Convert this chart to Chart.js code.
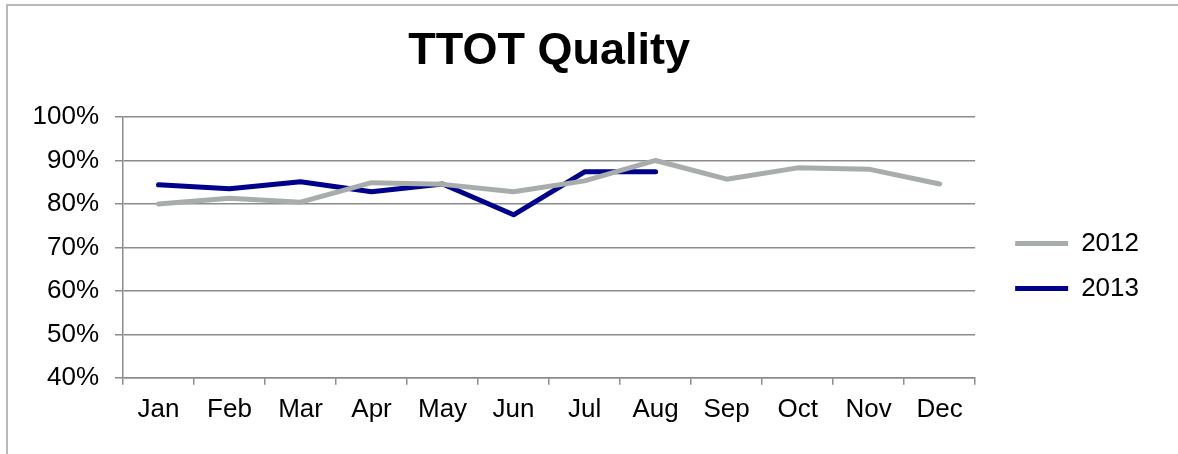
<!DOCTYPE html>
<html>
<head>
<meta charset="utf-8">
<script src="https://cdn.jsdelivr.net/npm/chart.js@4"></script>
<style>
  html, body { margin: 0; padding: 0; background: #fff; }
  #frame { position: absolute; left: 6px; top: 4px; width: 1200px; height: 480px;
           border-left: 2px solid #b6baba; border-top: 2px solid #b6baba; }
  #wrap { position: absolute; left: 0; top: 0; width: 1178px; height: 454px; }
</style>
</head>
<body>
<div id="frame"></div>
<div id="wrap"><canvas id="chart"></canvas></div>
<script>
const months = ["Jan", "Feb", "Mar", "Apr", "May", "Jun", "Jul", "Aug", "Sep", "Oct", "Nov", "Dec"];
const q2012 = [0.80, 0.813, 0.804, 0.849, 0.845, 0.828, 0.853, 0.900, 0.857, 0.883, 0.880, 0.846];
const q2013 = [0.844, 0.835, 0.851, 0.828, 0.846, 0.775, 0.874, 0.874, null, null, null, null];
const yTicks = [0.4, 0.5, 0.6, 0.7, 0.8, 0.9, 1.0];

const font = "'Liberation Sans', Arial, sans-serif";
const gridColor = "#8c8c8c";

const ctx = document.getElementById("chart");
new Chart(ctx, {
  type: "line",
  data: {
    labels: months,
    datasets: [
      { label: "2012", data: q2012, borderColor: "#a8adac", backgroundColor: "#a8adac", borderWidth: 5,
        pointRadius: 0, tension: 0, borderCapStyle: "round", borderJoinStyle: "round", pointStyle: "line" },
      { label: "2013", data: q2013, borderColor: "#00008c", backgroundColor: "#00008c", borderWidth: 5,
        pointRadius: 0, tension: 0, borderCapStyle: "round", borderJoinStyle: "round", pointStyle: "line" },
    ],
  },
  options: {
    responsive: true,
    maintainAspectRatio: false,
    animation: false,
    layout: { padding: { left: 10, right: 29, top: 0, bottom: 20 } },
    plugins: {
      title: {
        display: true, text: "TTOT Quality", color: "#000", fullSize: false,
        font: { family: font, size: 45, weight: "bold" },
        padding: { top: 25, bottom: 38 },
      },
      legend: {
        position: "right",
        title: { display: true, text: " ", font: { family: font, size: 14 }, padding: { top: 81, bottom: 0 } },
        labels: {
          usePointStyle: true, pointStyleWidth: 53, boxHeight: 5, padding: 19,
          color: "#000", font: { family: font, size: 26 },
        },
      },
      tooltip: { enabled: false },
    },
    scales: {
      x: {
        offset: true,
        grid: { display: true, drawOnChartArea: false, drawTicks: true, tickLength: 7, offset: true, color: gridColor, lineWidth: 1.5 },
        border: { display: true, color: gridColor, width: 1.5 },
        ticks: { color: "#000", font: { family: font, size: 26 }, padding: 9, maxRotation: 0, autoSkip: false },
      },
      y: {
        min: 0.4, max: 1.0,
        afterBuildTicks: (s) => { s.ticks = yTicks.map((v) => ({ value: v })); },
        afterFit: (s) => { s.width = 113; },
        grid: { color: gridColor, lineWidth: 1.5, tickLength: 8, drawTicks: true },
        border: { display: true, color: gridColor, width: 1.5 },
        ticks: { color: "#000", font: { family: font, size: 26 }, padding: 16,
                 callback: (v) => Math.round(v * 100) + "%" },
      },
      yPad: {
        position: "right", display: true,
        grid: { display: false, drawTicks: false }, border: { display: false },
        ticks: { display: false },
        afterFit: (s) => { s.width = 21; },
      },
    },
  },
});
</script>
</body>
</html>
